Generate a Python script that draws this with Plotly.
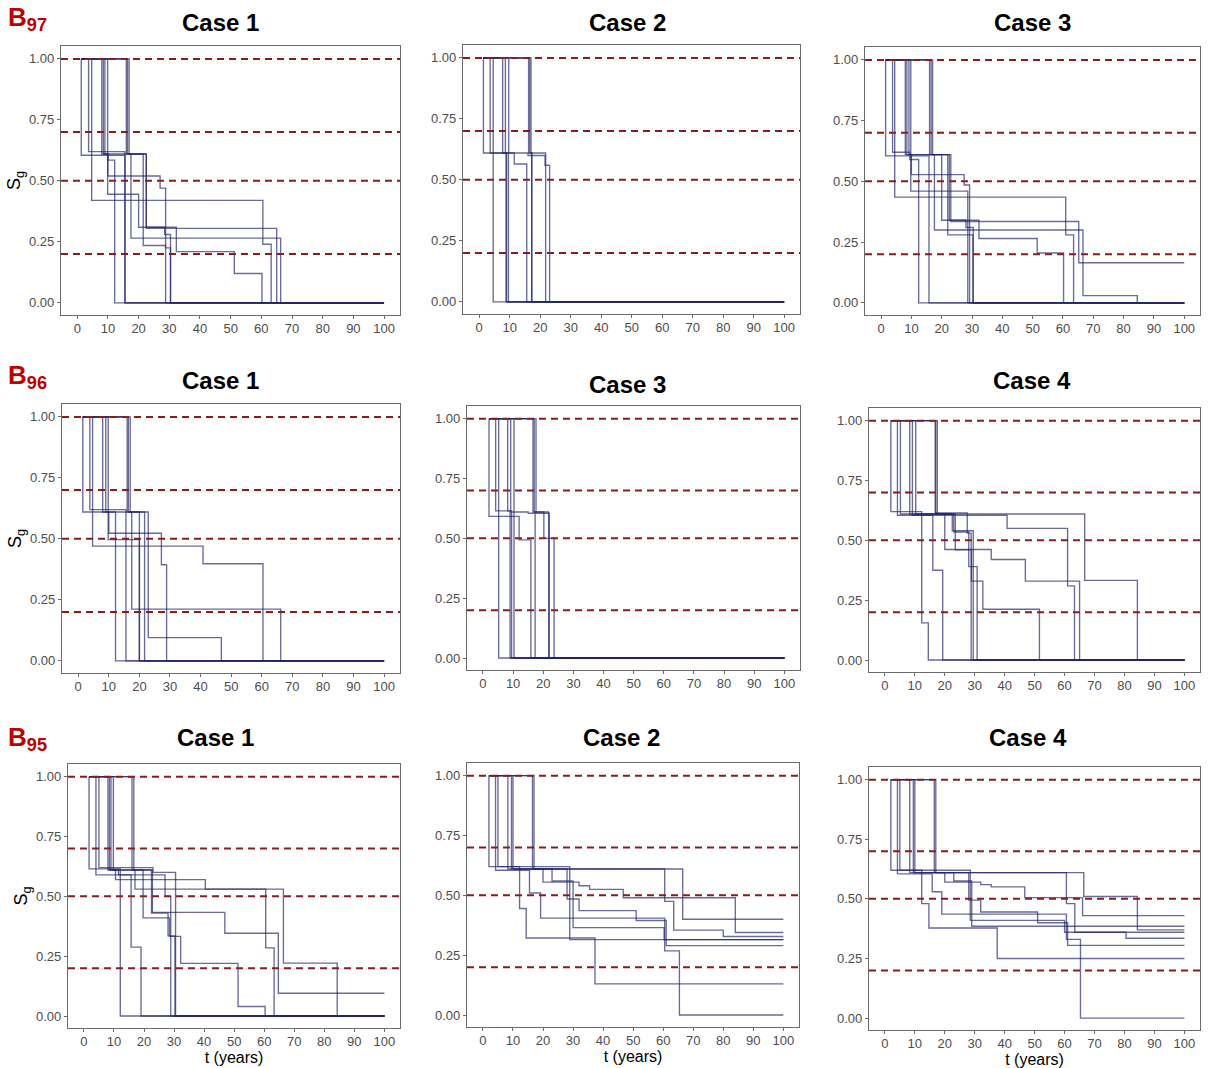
import plotly.graph_objects as go

W, H = 1211, 1068

# ---------------- data ----------------
x_ticks = [0, 10, 20, 30, 40, 50, 60, 70, 80, 90, 100]
y_ticks = [0.0, 0.25, 0.5, 0.75, 1.0]
y_tick_labels = ["0.00", "0.25", "0.50", "0.75", "1.00"]
thresholds = [1.0, 0.7, 0.5, 0.2]
t_end = 100

row_labels = ["97", "96", "95"]
case_titles = ["Case 1", "Case 2", "Case 3", "Case 1", "Case 3", "Case 4", "Case 1", "Case 2", "Case 4"]

# each curve: drop times and the survival level after each drop
b97_c1_t = [[1.3, 15.6], [4.7, 60.5, 63.2], [3.7, 15.5], [8.0, 10.0, 27.0, 28.8],
            [9.9, 20.0, 28.5, 30.4], [16.4, 22.5, 65.0], [16.9, 17.5, 66.3],
            [16.0, 21.5, 28.8, 30.4], [8.5, 22.5, 32.3, 51.2, 60.2], [9.0, 10.0, 12.2]]
b97_c1_s = [[0.605, 0.0], [0.42, 0.24, 0.0], [0.62, 0.0], [0.61, 0.52, 0.47, 0.0],
            [0.445, 0.31, 0.28, 0.0], [0.61, 0.305, 0.0], [0.61, 0.265, 0.0],
            [0.61, 0.235, 0.225, 0.0], [0.61, 0.31, 0.21, 0.12, 0.0], [0.61, 0.585, 0.0]]

b97_c2_t = [[1.4, 9.0], [4.6], [3.6, 8.8], [7.7, 9.6], [8.6, 11.5, 15.6],
            [9.7, 16.0, 21.6, 23.1], [16.2, 17.2], [16.6, 21.8], [17.0, 17.3]]
b97_c2_s = [[0.61, 0.0], [0.0], [0.61, 0.0], [0.61, 0.0], [0.61, 0.565, 0.0],
            [0.61, 0.60, 0.56, 0.0], [0.61, 0.0], [0.61, 0.0], [0.61, 0.0]]

b97_c3_t = [[1.5, 15.8], [4.5, 60.9, 63.5], [3.8, 9.5, 12.4], [8.0, 10.0, 27.4, 29.2],
            [9.8, 20.0, 28.0, 30.4], [16.5, 23.0, 65.2], [17.0, 17.6, 66.6, 84.5],
            [16.0, 22.0, 30.3], [8.5, 22.5, 32.3, 51.5, 60.2], [9.2, 20.0, 28.6]]
b97_c3_s = [[0.605, 0.0], [0.435, 0.28, 0.0], [0.62, 0.59, 0.0], [0.61, 0.528, 0.485, 0.0],
            [0.46, 0.34, 0.31, 0.0], [0.61, 0.335, 0.165], [0.61, 0.30, 0.03, 0.0],
            [0.61, 0.28, 0.0], [0.61, 0.34, 0.265, 0.205, 0.0], [0.61, 0.46, 0.0]]

b96_c1_t = [[1.5, 12.2], [4.7, 40.8, 60.4], [3.8, 15.6], [8.0, 10.0, 27.2, 28.9],
            [9.8, 20.0], [16.4, 21.7], [17.0, 17.5, 66.2], [9.0, 22.9, 46.8], [16.0, 20.0]]
b96_c1_s = [[0.61, 0.0], [0.47, 0.398, 0.0], [0.62, 0.0], [0.61, 0.523, 0.394, 0.0],
            [0.497, 0.0], [0.61, 0.0], [0.61, 0.212, 0.0], [0.61, 0.095, 0.0], [0.61, 0.0]]

b96_c3_t = [[2.0, 12.0, 15.9], [4.2, 9.0], [5.2], [8.2, 9.5], [9.2, 10.3],
            [10.3, 15.0, 17.3], [16.6, 21.8], [17.0, 20.2, 23.6], [17.6, 22.0]]
b96_c3_s = [[0.592, 0.494, 0.0], [0.615, 0.0], [0.0], [0.615, 0.0], [0.61, 0.0],
            [0.61, 0.605, 0.0], [0.61, 0.0], [0.61, 0.50, 0.0], [0.605, 0.0]]

b96_c4_t = [[2.0, 12.3, 14.5], [4.2, 16.0, 19.3], [17.0, 66.7, 84.3], [9.2, 40.8, 61.0, 63.3],
            [10.3, 23.0, 28.0, 30.8], [8.3, 20.0, 35.5, 46.9, 65.0],
            [17.5, 23.5, 28.9, 32.7, 51.6], [5.2, 22.5, 29.5], [16.8, 27.5, 28.8]]
b96_c4_s = [[0.62, 0.155, 0.0], [0.605, 0.375, 0.0], [0.61, 0.333, 0.0], [0.605, 0.55, 0.31, 0.0],
            [0.61, 0.535, 0.39, 0.0], [0.61, 0.462, 0.42, 0.33, 0.0],
            [0.61, 0.46, 0.33, 0.212, 0.0], [0.61, 0.54, 0.0], [0.615, 0.53, 0.0]]

b95_c1_t = [[1.7, 12.1], [4.0, 15.7, 19.0], [16.6, 17.0, 66.4, 84.3], [8.0, 10.5, 40.4, 60.5, 63.3],
            [5.0, 23.0, 30.5], [9.0, 22.8, 46.9, 64.7], [9.8, 19.7, 28.5, 32.2, 51.3, 60.3],
            [16.0, 22.5, 28.0, 30.3], [8.5, 11.5, 27.0, 28.9]]
b95_c1_s = [[0.615, 0.0], [0.59, 0.288, 0.0], [0.61, 0.53, 0.221, 0.0], [0.61, 0.57, 0.53, 0.285, 0.0],
            [0.62, 0.60, 0.0], [0.61, 0.433, 0.346, 0.095], [0.61, 0.41, 0.333, 0.22, 0.04, 0.0],
            [0.61, 0.43, 0.335, 0.0], [0.61, 0.59, 0.50, 0.0]]

b95_c2_t = [[2.0, 12.2, 14.4, 37.3], [4.2, 15.5, 19.2, 60.5, 65.4], [5.0, 28.9],
            [17.0, 60.5, 63.5, 80.0], [9.5, 66.5, 84.0], [8.3, 20.0, 32.0, 35.5, 46.7, 66.5],
            [10.0, 28.0, 32.0, 51.0, 61.0], [16.5, 23.0, 30.0, 60.3]]
b95_c2_s = [[0.62, 0.445, 0.322, 0.13], [0.605, 0.51, 0.405, 0.268, 0.0], [0.62, 0.315],
            [0.61, 0.475, 0.355, 0.328], [0.61, 0.49, 0.345], [0.61, 0.555, 0.54, 0.525, 0.49, 0.40],
            [0.61, 0.485, 0.436, 0.395, 0.29], [0.61, 0.56, 0.365, 0.315]]

b95_c4_t = [[2.0, 12.3, 14.7, 37.5], [4.2, 15.8, 19.0, 60.6, 65.3], [17.0, 60.6, 63.4, 80.5],
            [9.5, 66.4, 84.3], [8.3, 20.0, 32.0, 35.5, 46.7, 66.0],
            [10.0, 28.0, 32.0, 51.0, 61.0], [16.5, 23.0, 29.0], [5.0, 28.5, 60.0]]
b95_c4_s = [[0.62, 0.48, 0.378, 0.25], [0.605, 0.53, 0.436, 0.33, 0.0], [0.61, 0.48, 0.36, 0.335],
            [0.61, 0.51, 0.37], [0.61, 0.57, 0.56, 0.55, 0.505, 0.43],
            [0.61, 0.495, 0.445, 0.40, 0.305], [0.61, 0.575, 0.385], [0.62, 0.41, 0.36]]

panel_times = [b97_c1_t, b97_c2_t, b97_c3_t, b96_c1_t, b96_c3_t, b96_c4_t, b95_c1_t, b95_c2_t, b95_c4_t]
panel_surv = [b97_c1_s, b97_c2_s, b97_c3_s, b96_c1_s, b96_c3_s, b96_c4_s, b95_c1_s, b95_c2_s, b95_c4_s]

# ---------------- layout (pixel boxes of each plot panel) ----------------
boxes = [(61, 400, 46, 315), (463, 800, 45, 314), (865, 1200, 47, 315),
         (62, 400, 404, 673), (467, 800, 406, 670), (869, 1200, 408, 672),
         (68, 400, 764, 1028), (467, 799, 763, 1027), (869, 1200, 767, 1030)]
title_pos = [(220, 22), (627, 22), (1032, 22), (220, 381), (627, 385), (1032, 381),
             (215, 737), (621, 737), (1028, 737)]

FONT = "Liberation Sans, Arial, sans-serif"
curve_color = "rgba(36,36,108,0.68)"
dash_color = "#8b1c1c"
frame_color = "#6b6b6b"
tick_font = dict(family=FONT, size=13, color="#4d4d4d")

fig = go.Figure()
layout = dict(width=W, height=H, margin=dict(l=0, r=0, t=0, b=0),
              paper_bgcolor="white", plot_bgcolor="white", showlegend=False)
shapes = []
annotations = []

for i in range(9):
    n = i + 1
    sx = "" if n == 1 else str(n)
    xa, ya = "x" + sx, "y" + sx
    times, surv = panel_times[i], panel_surv[i]
    start = min(t[0] for t in times)
    for t, s in zip(times, surv):
        xs = [start] + list(t) + [t_end]
        ys = [1.0] + list(s) + [s[-1]]
        fig.add_trace(go.Scatter(x=xs, y=ys, mode="lines",
                                 line=dict(shape="hv", color=curve_color, width=1.35),
                                 xaxis=xa, yaxis=ya, hoverinfo="skip", showlegend=False))
    l, r, tp, bt = boxes[i]
    layout["xaxis" + sx] = dict(domain=[l / W, r / W], range=[-5.3, 105.2], anchor=ya,
                                tickmode="array", tickvals=x_ticks, ticktext=[str(v) for v in x_ticks],
                                showline=True, mirror=True, linecolor=frame_color, linewidth=1.2,
                                ticks="outside", ticklen=3, tickcolor=frame_color,
                                ticklabelstandoff=-2,
                                showgrid=False, zeroline=False, tickfont=tick_font)
    layout["yaxis" + sx] = dict(domain=[1 - bt / H, 1 - tp / H], range=[-0.05, 1.053], anchor=xa,
                                tickmode="array", tickvals=y_ticks, ticktext=y_tick_labels,
                                showline=True, mirror=True, linecolor=frame_color, linewidth=1.2,
                                ticks="outside", ticklen=3, tickcolor=frame_color,
                                showgrid=False, zeroline=False, tickfont=tick_font)
    if i >= 6:
        layout["xaxis" + sx]["title"] = dict(text="t (years)", standoff=0,
                                             font=dict(family=FONT, size=16, color="black"))
    if i % 3 == 0:
        layout["yaxis" + sx]["title"] = dict(text="S<sub>g</sub>", standoff=3,
                                             font=dict(family=FONT, size=18, color="black"))
    for lvl in thresholds:
        shapes.append(dict(type="line", xref=xa + " domain", yref=ya, x0=0, x1=1, y0=lvl, y1=lvl,
                           line=dict(color=dash_color, width=2, dash="7px,5px"), layer="above"))
    cx, cy = title_pos[i]
    annotations.append(dict(text="<b>" + case_titles[i] + "</b>", x=cx / W, y=1 - cy / H,
                            xref="paper", yref="paper", xanchor="center", yanchor="middle",
                            showarrow=False, font=dict(family=FONT, size=24, color="black")))

row_label_y = [18, 377, 738]
for k, sub in enumerate(row_labels):
    annotations.append(dict(text="<b>B<sub>" + sub + "</sub></b>", x=6 / W, y=1 - row_label_y[k] / H,
                            xref="paper", yref="paper", xanchor="left", yanchor="middle",
                            showarrow=False, font=dict(family=FONT, size=26, color="#c00000")))

layout["shapes"] = shapes
layout["annotations"] = annotations
fig.update_layout(**layout)
fig.write_html("out.html")
